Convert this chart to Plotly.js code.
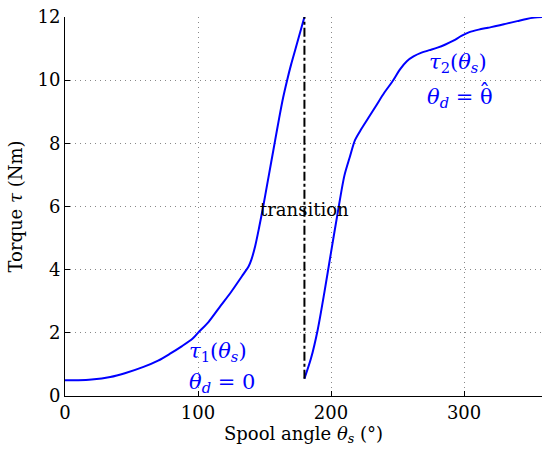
<!DOCTYPE html>
<html>
<head>
<meta charset="utf-8">
<script src="https://cdn.plot.ly/plotly-3.0.1.min.js"></script>
<style>html,body{margin:0;padding:0;overflow:hidden;background:#fff}</style>
</head>
<body>
<div id="chart" style="width:542px;height:450px"></div>
<script>
// Curve 1: tau_1(theta_s), theta_d = 0
const angle1 = [0,10,20,34,45,59,70,79,88,96,100,108,116,125,134,138,140,143,146,149,152,155,158,161,164,167,170,173,176,180];
const torque1 = [0.5,0.5,0.52,0.6,0.72,0.92,1.12,1.34,1.58,1.82,2.0,2.35,2.8,3.3,3.85,4.1,4.3,4.75,5.35,6.0,6.7,7.4,8.1,8.8,9.45,10.0,10.5,10.95,11.4,12.0];
// Curve 2: tau_2(theta_s), theta_d = theta-hat
const angle2 = [180,185,190,195,200,205,210,214,218,222,228,234,240,246,252,257,262,268,274,280,286,292,298,304,311,318,325,332,340,347,353,358.6];
const torque2 = [0.55,1.2,2.1,3.28,4.55,5.8,6.97,7.55,8.1,8.4,8.8,9.2,9.6,9.95,10.35,10.6,10.75,10.87,10.95,11.03,11.13,11.25,11.4,11.52,11.6,11.66,11.72,11.79,11.87,11.94,11.98,12.0];
// Transition line
const transitionX = [180,180];
const transitionY = [0.55,12];
const xTicks = [0,100,200,300];
const yTicks = [0,2,4,6,8,10,12];

const serif = "DejaVu Serif";
const traces = [
  {x: angle1, y: torque1, mode: "lines", line: {color: "#0000ff", width: 2, shape: "spline", smoothing: 0.8}, hoverinfo: "skip"},
  {x: angle2, y: torque2, mode: "lines", line: {color: "#0000ff", width: 2, shape: "spline", smoothing: 0.8}, hoverinfo: "skip"},
  {x: transitionX, y: transitionY, mode: "lines", line: {color: "#000000", width: 2, dash: "dashdot"}, hoverinfo: "skip"}
];
const layout = {
  width: 542, height: 450,
  margin: {l: 65, r: 0, t: 17, b: 54},
  showlegend: false,
  paper_bgcolor: "#fff", plot_bgcolor: "#fff",
  font: {family: serif, size: 18, color: "#000"},
  xaxis: {
    range: [0, 358.6], tickvals: xTicks, ticktext: xTicks.map(String),
    showline: true, linecolor: "#000", linewidth: 1, ticks: "inside", ticklen: 5, tickcolor: "#000",
    showgrid: true, gridcolor: "#888", griddash: "1px,4px", gridwidth: 1, zeroline: false,
    tickfont: {family: serif, size: 18, color: "#000"},
    title: {text: "Spool angle <i>θ<sub>s</sub></i> (°)", font: {family: serif, size: 18, color: "#000"}, standoff: 4}
  },
  yaxis: {
    range: [0, 12], tickvals: yTicks, ticktext: yTicks.map(String),
    showline: true, linecolor: "#000", linewidth: 1, ticks: "inside", ticklen: 5, tickcolor: "#000",
    showgrid: true, gridcolor: "#888", griddash: "1px,4px", gridwidth: 1, zeroline: false,
    tickfont: {family: serif, size: 18, color: "#000"},
    title: {text: "Torque <i>τ</i> (Nm)", font: {family: serif, size: 18, color: "#000"}, standoff: 10}
  },
  annotations: [
    {x: 180, y: 5.9, xref: "x", yref: "y", text: "transition", showarrow: false, xanchor: "center", yanchor: "middle", font: {family: serif, size: 18, color: "#000"}},
    {x: 91.5, y: 1.4, xref: "x", yref: "y", text: "<i>τ</i><sub>1</sub>(<i>θ<sub>s</sub></i>)", showarrow: false, xanchor: "left", yanchor: "middle", font: {family: serif, size: 21, color: "#0000ff"}},
    {x: 91.5, y: 0.42, xref: "x", yref: "y", text: "<i>θ<sub>d</sub></i> = 0", showarrow: false, xanchor: "left", yanchor: "middle", font: {family: serif, size: 21, color: "#0000ff"}},
    {x: 272.5, y: 10.55, xref: "x", yref: "y", text: "<i>τ</i><sub>2</sub>(<i>θ<sub>s</sub></i>)", showarrow: false, xanchor: "left", yanchor: "middle", font: {family: serif, size: 21, color: "#0000ff"}},
    {x: 270.5, y: 9.45, xref: "x", yref: "y", text: "<i>θ<sub>d</sub></i> = θ", showarrow: false, xanchor: "left", yanchor: "middle", font: {family: serif, size: 21, color: "#0000ff"}},
    {x: 315.6, y: 9.62, xref: "x", yref: "y", text: "ˆ", showarrow: false, xanchor: "center", yanchor: "middle", font: {family: serif, size: 22, color: "#0000ff"}}
  ]
};
Plotly.newPlot("chart", traces, layout, {displayModeBar: false, staticPlot: true});
</script>
</body>
</html>
